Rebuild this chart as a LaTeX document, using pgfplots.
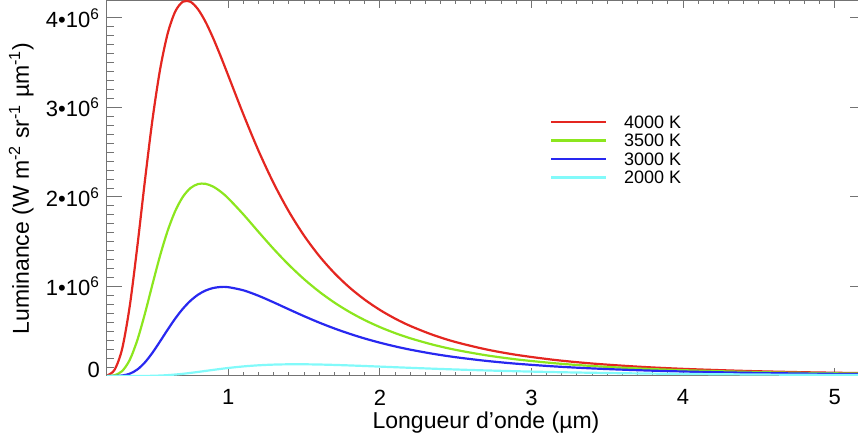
\documentclass[border=0pt]{standalone}
\usepackage{pgfplots}
\pgfplotsset{compat=1.18}
\usepackage{fontspec}
\setmainfont{Liberation Sans}

\definecolor{c4000}{RGB}{228,38,32}
\definecolor{c3500}{RGB}{140,230,30}
\definecolor{c3000}{RGB}{40,40,240}
\definecolor{c2000}{RGB}{130,250,250}

% radiance in units of 10^6 W m-2 sr-1 um-1
\pgfplotstableread{
lam   B
0.2   0.00576
0.25  0.0688
0.3   0.3042
0.35  0.7805
0.4   1.4464
0.45  2.1804
0.5   2.8647
0.55  3.4233
0.6   3.8250
0.65  4.0718
0.7   4.1812
0.75  4.1818
0.8   4.0983
0.85  3.9567
0.9   3.7759
0.95  3.5718
1.0   3.3561
1.1   2.9217
1.2   2.5144
1.3   2.1514
1.4   1.8367
1.5   1.5682
1.6   1.3410
1.7   1.14957
1.8   0.98849
1.9   0.85279
2.0   0.73840
2.1   0.64166
2.2   0.55964
2.35  0.45891
2.5   0.37928
2.7   0.29756
2.9   0.23635
3.15  0.18007
3.4   0.13940
3.7   0.10449
4.0   0.079785
4.4   0.057099
4.8   0.041895
5.2   0.031414
}\tblA

\pgfplotstableread{
lam   B
0.2   0.00044
0.25  0.0088
0.3   0.05485
0.35  0.1798
0.4   0.4003
0.45  0.6958
0.5   1.0245
0.55  1.3436
0.6   1.6219
0.65  1.8426
0.7   2.0006
0.75  2.0989
0.8   2.1446
0.85  2.1472
0.9   2.1160
0.95  2.0595
1.0   1.9850
1.1   1.8045
1.2   1.6090
1.3   1.4180
1.4   1.2408
1.5   1.0819
1.6   0.94203
1.7   0.82033
1.8   0.71513
1.9   0.62445
2.0   0.54647
2.1   0.47946
2.2   0.42178
2.35  0.34980
2.5   0.29191
2.7   0.23160
2.9   0.18569
3.15  0.14288
3.4   0.11153
3.7   0.084292
4.0   0.064811
4.4   0.046730
4.8   0.034502
5.2   0.026005
}\tblB

\pgfplotstableread{
lam   B
0.2   0.0000143
0.25  0.000568
0.3   0.005588
0.35  0.025377
0.4   0.07218
0.45  0.15175
0.5   0.26022
0.55  0.38648
0.6   0.51741
0.65  0.64148
0.7   0.75043
0.75  0.83977
0.8   0.90770
0.85  0.95476
0.9   0.98285
0.95  0.99451
1.0   0.99233
1.1   0.95720
1.2   0.89603
1.3   0.82221
1.4   0.74452
1.5   0.66837
1.6   0.59666
1.7   0.53101
1.8   0.47179
1.9   0.41895
2.0   0.37215
2.1   0.33086
2.2   0.29453
2.35  0.24814
2.5   0.20991
2.7   0.16912
2.9   0.13738
3.15  0.10715
3.4   0.084602
3.7   0.064678
4.0   0.050203
4.4   0.036579
4.8   0.027239
5.2   0.020675
}\tblC

\pgfplotstableread{
lam   B
0.2   0
0.3   0.000002
0.4   0.00018
0.5   0.00215
0.6   0.009505
0.7   0.024389
0.8   0.045198
0.9   0.068140
1.0   0.089522
1.1   0.10697
1.2   0.11954
1.3   0.12724
1.4   0.13066
1.5   0.13068
1.6   0.12807
1.7   0.12365
1.8   0.11800
1.9   0.11162
2.0   0.10488
2.1   0.098043
2.2   0.091304
2.35  0.081640
2.5   0.072721
2.7   0.062128
2.9   0.053030
3.15  0.043571
3.4   0.035924
3.7   0.028678
4.0   0.023075
4.4   0.017489
4.8   0.013447
5.2   0.010481
}\tblD

\begin{document}
\begin{tikzpicture}
\begin{axis}[
    name=ax,
    scale only axis,
    width=379pt, height=187.5pt,
    xmin=0.2, xmax=5.2,
    ymin=0, ymax=4.19,
    xtick={1,2,3,4,5},
    xticklabels={1,2,3,4,5},
    ytick={0,1,2,3,4},
    yticklabels={\raisebox{6pt}{0}, 1•10\textsuperscript{6}, 2•10\textsuperscript{6}, 3•10\textsuperscript{6}, 4•10\textsuperscript{6}},
    minor x tick num=9,
    minor y tick num=9,
    tick align=inside,
    xtick style={/pgfplots/major tick length=3.75pt, /pgfplots/minor tick length=1.75pt},
    ytick style={/pgfplots/major tick length=7.5pt, /pgfplots/minor tick length=3.5pt},
    every tick/.append style={black!55, line width=0.5pt},
    axis line style={black!55, line width=0.5pt},
    /pgf/number format/assume math mode=true,
    tick label style={font=\fontsize{11}{13}\selectfont},
    xticklabel style={yshift=-3.3pt},
    xlabel={Longueur d'onde (µm)},
    ylabel={Luminance (W m\textsuperscript{-2} sr\textsuperscript{-1} µm\textsuperscript{-1})},
    label style={font=\fontsize{11.5}{13}\selectfont},
    xlabel style={at={(axis description cs:0.5,-0.123)}, anchor=center},
    ylabel style={at={(axis description cs:-0.113,0.5)}, anchor=center},
    legend style={draw=none, fill=none, inner sep=0pt, outer sep=0pt,
        at={(rel axis cs:0.5844,0.6947)}, anchor=north west,
        font=\fontsize{9}{9}\selectfont, row sep=2.75pt,
        nodes={inner sep=0pt, text height=6.5pt, text depth=0pt}},
    legend cell align=left,
    legend image code/.code={\draw[#1] (0pt,0pt) -- (27.5pt,0pt); \path (36pt,0pt);},
    every axis plot/.append style={line width=1.1pt, smooth},
]
\addplot[c4000] table[x=lam, y=B] {\tblA};
\addlegendentry{4000 K}
\addplot[c3500] table[x=lam, y=B] {\tblB};
\addlegendentry{3500 K}
\addplot[c3000] table[x=lam, y=B] {\tblC};
\addlegendentry{3000 K}
\addplot[c2000] table[x=lam, y=B] {\tblD};
\addlegendentry{2000 K}
\end{axis}
\pgfresetboundingbox
\path[use as bounding box] ([shift={(-53.5pt,-33.5pt)}]ax.south west) rectangle ([shift={(-3.5pt,0.5pt)}]ax.north east);
\end{tikzpicture}
\end{document}
